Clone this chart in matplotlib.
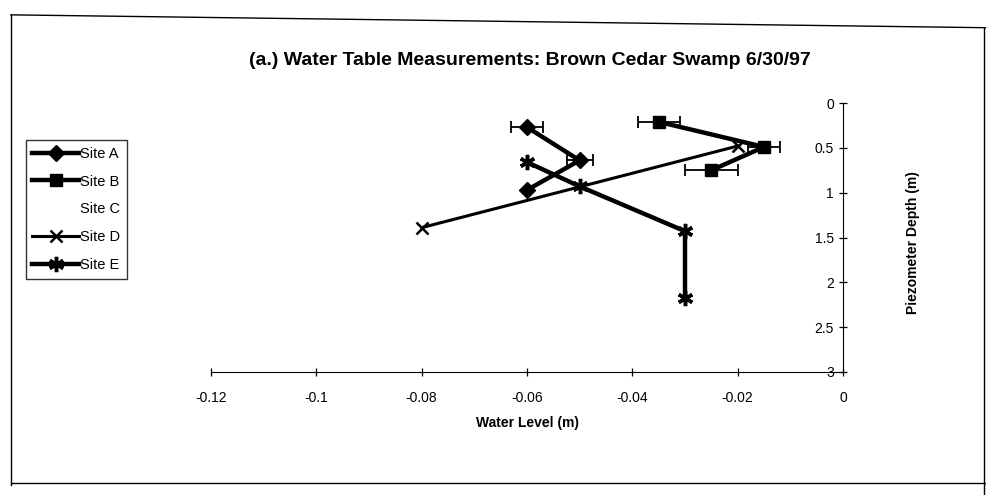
import matplotlib
matplotlib.use("Agg")
from matplotlib import pyplot as plt
from matplotlib.lines import Line2D

plt.rcParams['font.family'] = ['Liberation Sans', 'DejaVu Sans']

# Water level (m) vs piezometer depth (m)
site_a_x = [-0.06, -0.05, -0.06]
site_a_y = [0.27, 0.64, 0.97]
site_a_err = [0.003, 0.0025, 0.0]

site_b_x = [-0.035, -0.015, -0.025]
site_b_y = [0.21, 0.49, 0.75]
site_b_err = [0.004, 0.003, 0.005]

site_d_x = [-0.08, -0.02]
site_d_y = [1.39, 0.48]

site_e_x = [-0.06, -0.05, -0.03, -0.03]
site_e_y = [0.66, 0.93, 1.43, 2.17]

x_ticks = [-0.12, -0.1, -0.08, -0.06, -0.04, -0.02, 0]
x_labels = ['-0.12', '-0.1', '-0.08', '-0.06', '-0.04', '-0.02', '0']
y_ticks = [0, 0.5, 1, 1.5, 2, 2.5, 3]
y_labels = ['0', '0.5', '1', '1.5', '2', '2.5', '3']

fig = plt.figure(figsize=(9.87, 4.95), dpi=100)
ax = fig.add_axes([0.2138, 0.2485, 0.6403, 0.5434])

ax.errorbar(site_a_x, site_a_y, xerr=site_a_err, color='k', lw=3.2, marker='D',
            ms=8, capsize=4, elinewidth=1.3, capthick=1.3, label='Site A')
ax.errorbar(site_b_x, site_b_y, xerr=site_b_err, color='k', lw=3.2, marker='s',
            ms=9, capsize=4, elinewidth=1.3, capthick=1.3, label='Site B')
ax.plot(site_d_x, site_d_y, color='k', lw=2.2, marker='x', ms=9, mew=1.8, label='Site D')
ax.plot(site_e_x, site_e_y, color='k', lw=3.2, marker=(6, 2, 0), ms=11, mew=2.5, label='Site E')

ax.set_xlim(-0.12, 0)
ax.set_ylim(3, 0)
ax.set_xticks(x_ticks)
ax.set_xticklabels(x_labels)
ax.set_yticks(y_ticks)
ax.set_yticklabels(y_labels)

ax.spines['left'].set_position(('data', 0))
ax.spines['right'].set_visible(False)
ax.spines['top'].set_visible(False)
ax.tick_params(axis='both', direction='inout', length=6, labelsize=10, width=0.9)
ax.tick_params(axis='x', pad=11)
ax.patch.set_alpha(0)

fig.text(0.537, 0.878, '(a.) Water Table Measurements: Brown Cedar Swamp 6/30/97',
         ha='center', va='center', fontsize=14, fontweight='bold')
fig.text(0.534, 0.145, 'Water Level (m)', ha='center', va='center',
         fontsize=10, fontweight='bold')
fig.text(0.925, 0.51, 'Piezometer Depth (m)', ha='center', va='center',
         rotation=90, fontsize=10, fontweight='bold')

handles = [
    Line2D([], [], color='k', lw=3.2, marker='D', ms=8),
    Line2D([], [], color='k', lw=3.2, marker='s', ms=9),
    Line2D([], [], linestyle='none'),
    Line2D([], [], color='k', lw=2.2, marker='x', ms=9, mew=1.8),
    Line2D([], [], color='k', lw=3.2, marker=(6, 2, 0), ms=11, mew=2.5),
]
leg = fig.legend(handles, ['Site A', 'Site B', 'Site C', 'Site D', 'Site E'],
                 loc='upper left', bbox_to_anchor=(0.026, 0.717), fontsize=10.5,
                 frameon=True, fancybox=False, handlelength=3.2, handletextpad=0.1,
                 labelspacing=0.95, borderpad=0.45, borderaxespad=0)
leg.get_frame().set_edgecolor('k')
leg.get_frame().set_linewidth(1)

# outer chart border
fig.add_artist(Line2D([0.011, 1.0], [0.97, 0.944], color='k', lw=1))
fig.add_artist(Line2D([0.011, 0.011], [0.97, 0.02], color='k', lw=1))
fig.add_artist(Line2D([0.011, 1.0], [0.024, 0.024], color='k', lw=1))
fig.add_artist(Line2D([0.997, 0.997], [0.944, 0.0], color='k', lw=1))

fig.savefig('out.png', dpi=100)
